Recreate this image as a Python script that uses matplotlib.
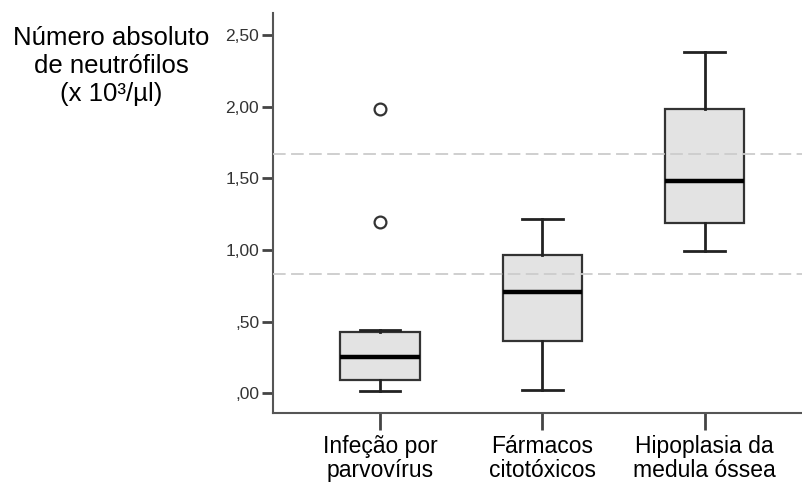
import numpy as np
import matplotlib
matplotlib.use("Agg")
import matplotlib.pyplot as plt

plt.rcParams['font.family'] = ['Liberation Sans', 'DejaVu Sans']

# Grupos e estatísticas (x 10^3/µl)
grupos = ["Infeção por\nparvovírus", "Fármacos\ncitotóxicos", "Hipoplasia da\nmedula óssea"]
minimos = [0.02, 0.025, 0.995]
q1 = [0.094, 0.366, 1.19]
medianas = [0.256, 0.71, 1.483]
q3 = [0.43, 0.965, 1.98]
maximos = [0.44, 1.214, 2.378]
outliers = [[1.193, 1.98], [], []]

# Limites de referência (linhas tracejadas)
referencias = [0.83, 1.667]

y_ticks = [0.0, 0.5, 1.0, 1.5, 2.0, 2.5]

stats = []
for i in range(len(grupos)):
    stats.append({
        "whislo": minimos[i], "q1": q1[i], "med": medianas[i],
        "q3": q3[i], "whishi": maximos[i], "fliers": outliers[i],
    })

fig = plt.figure(figsize=(8.02, 4.84), dpi=100)
ax = fig.add_axes([273 / 802, 1 - 413 / 484, 1 - 273 / 802, 400 / 484])

ax.bxp(stats, positions=range(len(grupos)), widths=0.49, patch_artist=True,
       boxprops=dict(facecolor="#e3e3e3", edgecolor="#333333", linewidth=1.6),
       medianprops=dict(color="black", linewidth=3.2),
       whiskerprops=dict(color="#222222", linewidth=2),
       capprops=dict(color="#222222", linewidth=2),
       capwidths=0.25,
       flierprops=dict(marker="o", markerfacecolor="white", markeredgecolor="#333333",
                       markersize=8.5, markeredgewidth=1.6),
       zorder=2)

for r in referencias:
    ax.axhline(r, color="#cccccc", linestyle=(0, (7, 3)), linewidth=1.3, zorder=3)

ax.set_xlim(-0.66, 2.6)
ax.set_ylim(-0.136, 2.652)
ax.set_yticks(y_ticks)
ax.set_yticklabels([f"{v:.2f}".replace(".", ",").lstrip("0") if v < 1 else f"{v:.2f}".replace(".", ",")
                    for v in y_ticks], fontsize=12.5, color="#333333")
ax.set_xticks(range(len(grupos)))
ax.set_xticklabels(grupos, fontsize=16.5, color="black", linespacing=1.05)

for s in ["top", "right"]:
    ax.spines[s].set_visible(False)
for s in ["left", "bottom"]:
    ax.spines[s].set_color("#555555")
    ax.spines[s].set_linewidth(1.5)
ax.tick_params(axis="y", length=8, width=2, color="#444444", pad=2)
ax.tick_params(axis="x", length=12, width=2, color="#444444", pad=4)

fig.text(111 / 802, 1 - 66 / 484, "Número absoluto\nde neutrófilos\n(x 10³/µl)",
         ha="center", va="center", fontsize=18.5, linespacing=1.2)

fig.savefig("out.png", dpi=100)
